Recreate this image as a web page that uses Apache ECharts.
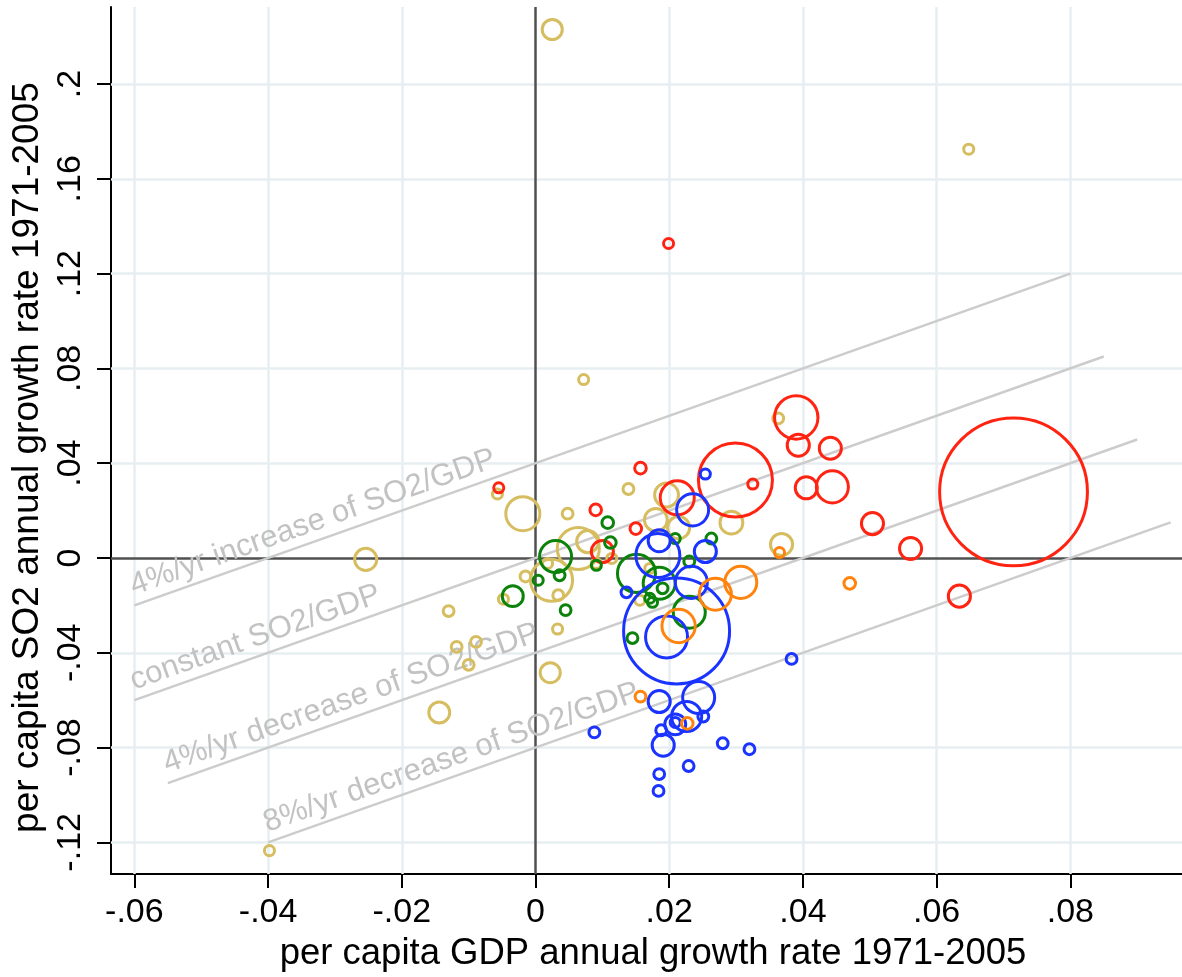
<!DOCTYPE html>
<html>
<head>
<meta charset="utf-8">
<script src="https://cdn.jsdelivr.net/npm/echarts@6/dist/echarts.min.js"></script>
<style>
  html, body { margin: 0; padding: 0; background: #fff; }
  #chart { width: 1182px; height: 977px; }
</style>
</head>
<body>
<div id="chart"></div>
<script>
// tick values shown on the axes
var xTicks = [-0.06, -0.04, -0.02, 0, 0.02, 0.04, 0.06, 0.08];
var yTicks = [-0.12, -0.08, -0.04, 0, 0.04, 0.08, 0.12, 0.16, 0.2];

// reference lines: SO2 growth = GDP growth + offset
var refNames = ['4%/yr increase of SO2/GDP', 'constant SO2/GDP', '4%/yr decrease of SO2/GDP', '8%/yr decrease of SO2/GDP'];
var refOffsets = [0.04, 0, -0.04, -0.08];
var refStart = [-0.06, -0.06, -0.055, -0.04];
var refEnd = [0.08, 0.085, 0.09, 0.095];

// [gdp growth, so2 growth, weight]
var goldPts = [
  [0.0025, 0.223, 24], [0.0648, 0.1725, 6], [0.0072, 0.0753, 6], [-0.0254, -0.0006, 29],
  [-0.0398, -0.1235, 6], [-0.0057, 0.0270, 6], [-0.0019, 0.0187, 69], [-0.0130, -0.0224, 7],
  [-0.0118, -0.0375, 7], [-0.0089, -0.0354, 7], [-0.0100, -0.0451, 7], [-0.0144, -0.0652, 26],
  [-0.0048, -0.0174, 6], [-0.0015, -0.0078, 7], [0.0024, -0.0094, 105], [0.0022, -0.0484, 24],
  [0.0033, -0.0300, 6], [0.0139, 0.0291, 7], [0.0048, 0.0187, 7], [0.0196, 0.0266, 34],
  [0.0293, 0.0149, 31], [0.0180, 0.0161, 31], [0.0214, 0.0128, 29], [0.0064, 0.0040, 105],
  [0.0078, 0.0069, 29], [0.0018, -0.0023, 6], [0.0034, -0.0157, 7], [0.0091, -0.0023, 6],
  [0.0114, -0.0002, 6], [0.0171, -0.0044, 6], [0.0156, -0.0178, 6], [0.0363, 0.0589, 7],
  [0.0368, 0.0057, 29]
];
var redPts = [
  [0.0199, 0.1327, 6], [-0.0055, 0.0296, 6], [0.0157, 0.0379, 8], [0.0090, 0.0203, 8],
  [0.0212, 0.0254, 69], [0.0299, 0.0329, 326], [0.0325, 0.0312, 6], [0.0150, 0.0124, 8],
  [0.0100, 0.0027, 29], [0.0390, 0.0593, 112], [0.0393, 0.0476, 29], [0.0441, 0.0463, 29],
  [0.0405, 0.0296, 29], [0.0444, 0.0300, 61], [0.0715, 0.0279, 1300], [0.0504, 0.0145, 29],
  [0.0561, 0.0040, 29], [0.0634, -0.0161, 29]
];
var greenPts = [
  [-0.0034, -0.0161, 26], [0.0004, -0.0094, 6], [0.0108, 0.0149, 8], [0.0112, 0.0065, 8],
  [0.0030, 0.0006, 61], [0.0036, -0.0073, 7], [0.0045, -0.0220, 7], [0.0151, -0.0065, 86],
  [0.0185, -0.0107, 61], [0.0190, -0.0128, 7], [0.0263, 0.0082, 7], [0.0230, -0.0015, 7],
  [0.0171, -0.0170, 6], [0.0175, -0.0187, 6], [0.0230, -0.0229, 61], [0.0145, -0.0338, 7],
  [0.0209, 0.0082, 6], [0.0091, -0.0031, 6]
];
var bluePts = [
  [0.0254, 0.0354, 6], [0.0235, 0.0203, 61], [0.0185, 0.0073, 29], [0.0183, 0.0010, 115],
  [0.0254, 0.0027, 29], [0.0233, -0.0103, 61], [0.0136, -0.0145, 7], [0.0211, -0.0308, 668],
  [0.0196, -0.0333, 105], [0.0383, -0.0426, 7], [0.0185, -0.0606, 29], [0.0244, -0.0589, 61],
  [0.0226, -0.0669, 54], [0.0251, -0.0669, 7], [0.0209, -0.0702, 26], [0.0209, -0.0694, 6],
  [0.0188, -0.0727, 7], [0.0191, -0.0790, 29], [0.0088, -0.0736, 7], [0.0280, -0.0782, 7],
  [0.0320, -0.0807, 7], [0.0229, -0.0878, 7], [0.0185, -0.0912, 7], [0.0184, -0.0983, 7]
];
var orangePts = [
  [0.0214, -0.0287, 66], [0.0269, -0.0153, 61], [0.0307, -0.0103, 61], [0.0470, -0.0107, 8],
  [0.0365, 0.0023, 6], [0.0157, -0.0585, 7], [0.0227, -0.0698, 8]
];

var FONT = '"Liberation Sans", Arial, Helvetica, sans-serif';

function tickFmt(v) {
  if (Math.abs(v) < 1e-9) return '0';
  return String(+v.toFixed(4)).replace(/^(-?)0\./, '$1.');
}

function bubbleSize(d) {
  return 4.1 * Math.sqrt(d[2]);
}

function bubbles(name, pts, color) {
  return {
    name: name,
    type: 'scatter',
    z: 6,
    data: pts,
    symbol: 'circle',
    symbolSize: bubbleSize,
    itemStyle: { color: 'rgba(0,0,0,0)', borderColor: color, borderWidth: 3, opacity: 1 },
    emphasis: { disabled: true }
  };
}

var gridLines = [];
xTicks.forEach(function (v) { if (v !== 0) gridLines.push({ xAxis: v }); });
yTicks.forEach(function (v) { if (v !== 0) gridLines.push({ yAxis: v }); });

var refLines = refNames.map(function (n, i) {
  return [
    { name: n, coord: [refStart[i], refStart[i] + refOffsets[i]] },
    { coord: [refEnd[i], refEnd[i] + refOffsets[i]] }
  ];
});

var myChart = echarts.init(document.getElementById('chart'));

var option = {
  backgroundColor: '#fff',
  animation: false,
  textStyle: { fontFamily: FONT },
  grid: { left: 111, top: 7, right: 0, bottom: 97 },
  xAxis: {
    type: 'value',
    min: -0.0635,
    max: 0.0967,
    name: 'per capita GDP annual growth rate 1971-2005',
    nameLocation: 'middle',
    nameGap: 59,
    nameTextStyle: { fontSize: 36.5, color: '#000', fontFamily: FONT, padding: [0, 0, 0, 13] },
    axisLine: { onZero: false, lineStyle: { color: '#000', width: 2 } },
    axisTick: { show: true, length: 14, customValues: xTicks, lineStyle: { color: '#000', width: 2 } },
    axisLabel: { customValues: xTicks, formatter: tickFmt, fontSize: 34, color: '#000', margin: 22, fontFamily: FONT },
    splitLine: { show: false }
  },
  yAxis: {
    type: 'value',
    min: -0.1334,
    max: 0.2325,
    name: 'per capita SO2 annual growth rate 1971-2005',
    nameLocation: 'middle',
    nameGap: 44,
    nameRotate: 90,
    nameTextStyle: { fontSize: 37, color: '#000', fontFamily: FONT, padding: [0, 34, 0, 0] },
    axisLine: { onZero: false, lineStyle: { color: '#000', width: 2 } },
    axisTick: { show: true, length: 14, customValues: yTicks, lineStyle: { color: '#000', width: 2 } },
    axisLabel: { customValues: yTicks, formatter: tickFmt, rotate: 90, fontSize: 34, color: '#000', margin: 23, fontFamily: FONT },
    splitLine: { show: false }
  },
  series: [
    {
      name: 'grid',
      type: 'scatter',
      data: [],
      z: 1,
      silent: true,
      markLine: {
        z: 1,
        silent: true,
        symbol: 'none',
        animation: false,
        label: { show: false },
        lineStyle: { type: 'solid', color: '#e7eef2', width: 2.5 },
        data: gridLines
      }
    },
    {
      name: 'zero',
      type: 'scatter',
      data: [],
      z: 2,
      silent: true,
      markLine: {
        z: 2,
        silent: true,
        symbol: 'none',
        animation: false,
        label: { show: false },
        lineStyle: { type: 'solid', color: '#505050', width: 2.5 },
        data: [{ xAxis: 0 }, { yAxis: 0 }]
      }
    },
    {
      name: 'ratios',
      type: 'scatter',
      data: [],
      z: 3,
      silent: true,
      markLine: {
        z: 3,
        silent: true,
        symbol: 'none',
        animation: false,
        lineStyle: { type: 'solid', color: '#cccccc', width: 2.5 },
        label: {
          show: true,
          position: 'insideStartTop',
          formatter: '{b}',
          color: '#c2c2c2',
          fontSize: 31,
          fontFamily: FONT,
          distance: 3
        },
        data: refLines
      }
    },
    bubbles('gold', goldPts, '#d6bd60'),
    bubbles('red', redPts, '#ff2412'),
    bubbles('green', greenPts, '#0b830b'),
    bubbles('blue', bluePts, '#1a33ff'),
    bubbles('orange', orangePts, '#ff830d')
  ]
};

option && myChart.setOption(option);

window.addEventListener('resize', function () {
  myChart.resize();
});
</script>
</body>
</html>
